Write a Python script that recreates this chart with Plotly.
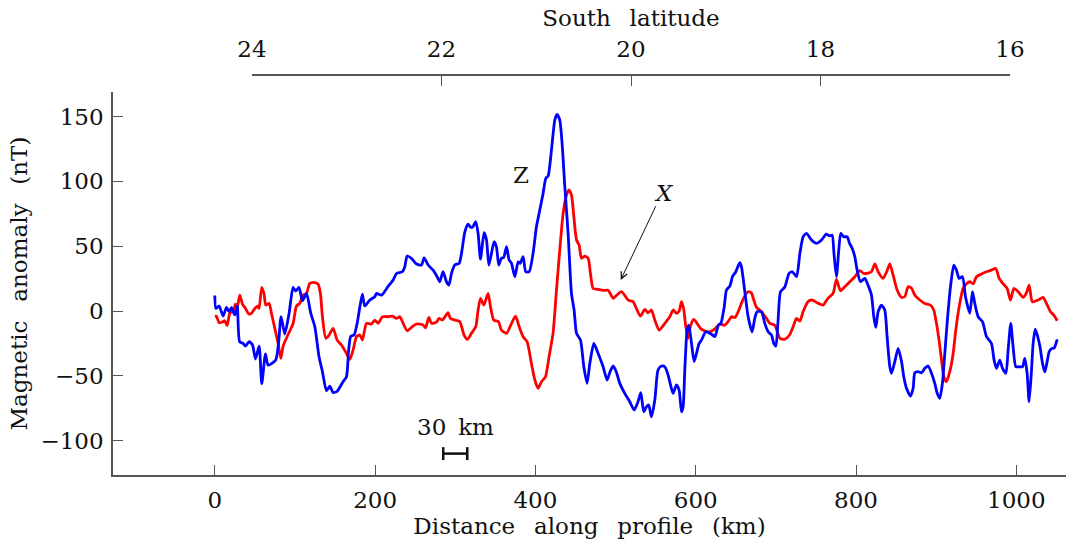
import plotly.graph_objects as go

# ---------------- data ----------------
z_km = [0, 1.4, 5.4, 10.4, 14.6, 17.8, 20.8, 25, 28, 31, 35.3, 38.3, 42.8, 47, 50.7, 55.3, 58.6, 63.2, 66.5, 76,
        79.5, 82.7, 87.3, 92.7, 97.7, 101, 105, 109.4, 114.4, 119.8, 124.8, 130, 134.3, 139.3, 143.5, 147.6, 152.6,
        160, 164.3, 167, 169.7, 173.8, 177.6, 181, 184.2, 187, 193.4, 199.6, 201.7, 208, 216, 222.5, 226.7, 234,
        237, 240, 245.4, 251.6, 257.8, 261.2, 266.2, 272.4, 277.4, 280.7, 284.8, 289, 292, 295.3, 299.4, 304.8,
        307.8, 312, 316, 319.4, 322, 325.6, 328.5, 331.5, 336, 339, 341.9, 345.2, 348.5, 351.4, 354.3, 357.6,
        360.4, 364, 367.2, 370.2, 374.3, 378.5, 381, 384.7, 388, 392.2, 397.1, 401.3, 405.5, 409.6, 413, 415.9,
        420, 424.2, 427, 430.4, 433.3, 436.7, 440.8, 445, 448.3, 451.3, 456.3, 460.4, 464.5, 467.9, 472.9, 478.3,
        484.5, 489.5, 493, 497, 501, 505.3, 511.5, 517.8, 523.2, 528, 531.5, 535.2, 538.5, 541.4, 544.8, 549, 553,
        557.3, 561.5, 565.6, 568.6, 571.8, 576, 579.3, 582.3, 584.3, 586.4, 589.3, 591.4, 594.8, 598, 601, 604.3,
        607.2, 612.6, 616.8, 621, 623.9, 628.4, 631.4, 635.5, 638.4, 642.6, 645.9, 650, 655, 657.1, 661.3, 665.4,
        670.4, 673.7, 676.6, 682, 686.2, 690.4, 694.6, 697.4, 700, 702.8, 705.8, 711, 716.5, 720.7, 725.8, 730,
        734, 738.2, 744.5, 750.7, 757, 763, 767, 770.2, 772.5, 775.6, 778.5, 781, 784.7, 789, 792, 795.3, 798.5,
        801.4, 805.6, 811, 815, 819.3, 822.2, 824.7, 827.6, 831.8, 835.9, 838.8, 842.2, 844.3, 848.4, 852.6, 856.8,
        859.6, 863, 868, 871.3, 873.4, 877.6, 881.8, 885.8, 890, 894.2, 898.3, 901.3, 904.5, 907.8, 910.8, 914,
        917.9, 922, 925.3, 928.7, 932.8, 936.6, 942, 945.3, 948.2, 952.4, 957.8, 962.8, 969, 972.3, 975.3, 979.4,
        982.8, 987, 989.8, 993.1, 996, 999.4, 1003.5, 1007.7, 1010.6, 1013.5, 1016, 1019, 1021, 1023.6, 1026.5,
        1029.4, 1032.7, 1035.6, 1038.5, 1041, 1044, 1047.3, 1051]
z_nT = [12, 2, 3.9, -3.9, 2.8, -0.5, 2.6, -3, 4, -23.7, -25, -27, -23.7, -26, -37, -27, -56, -33, -41.7, -37.8,
        -25, -4.4, -17.7, -1.8, 18.3, 15.4, 18.3, 8, 13.6, -1.8, -12, -35, -46.8, -61.5, -58, -62.8, -62,
        -54.5, -50.7, -30, -19.3, -18.5, -9.5, 3.3, 13, 3.9, 8.5, 11, 13.6, 12.3, 18.8, 24, 29, 30.3,
        34, 42.4, 40.7, 36.3, 35.5, 41, 35.5, 31.6, 26.5, 22.6, 30.3, 22.6, 20, 29, 35.5, 36.8,
        44.5, 61, 67, 64.6, 65, 69, 60, 40, 60.4, 54.8, 35.5, 44.5, 53.5, 49.6, 35.5, 40.7,
        41.2, 49.6, 39.4, 36.8, 26.5, 38, 36.8, 42, 30.3, 30.3, 44.5, 65, 78, 90.8, 102.4, 104.2,
        124, 147.4, 151.8, 147.4, 129.4, 96, 60, 13.6, 0.8, -17.2, -22.4, -43, -55.8, -40.4, -25, -32.7,
        -43, -53.2, -47, -42.4, -47, -55.8, -63.5, -70, -76.4, -70, -63, -77.7, -73.9, -72.5, -81.6, -68.7, -45.5,
        -42.4, -43, -49.4, -57, -63.5, -57, -61, -77.7, -73.9, -45.5, -14.7, -10.8, -25, -39, -32.7, -25,
        -22.4, -16, -17, -18.5, -19.8, -10.8, -9.5, 2.8, 16.2, 19.3, 26.5, 30.3, 37.3, 34, 14.9, -4.4,
        -16, -5.7, -0.5, -0.5, -9.5, -16, -18.5, -25, -27, -7, 14.9, 18.3, 29, 30.3, 26.5, 44.5,
        57.3, 60, 54.8, 52.2, 54.8, 59.4, 58, 58.6, 44.5, 26.5, 47, 60, 57.3, 57.3, 52.2, 48.3, 42,
        31.6, 22.6, 25.2, 20, 12.3, -4.4, -12.6, -0.5, 4.6, 0.8, -19.8, -43, -48, -39, -28.8, -39,
        -50.7, -59.6, -65.6, -59.6, -47.6, -46.8, -47.6, -44.2, -42.4, -48, -55.8, -63.5, -67.4, -55.8, -32.7, -7,
        18.8, 35.5, 31.6, 25.2, 26.5, 11, -1.8, 14.9, 5.9, -4.4, -8.2, -19.8, -25, -37.8, -44.2, -37.8,
        -44.2, -48, -30, -9.5, -27.5, -43, -43, -43, -36.5, -48, -70, -45.5, -25, -14, -19.3,
        -27, -40.4, -47, -39, -31.4, -29, -28.5, -21.9]

x_km = [0, 2, 5.4, 9.6, 12.5, 15.4, 18.7, 22.9, 25.8, 28, 31.2, 34.5, 38.3, 42.4, 45.7, 50, 54, 55.3, 58.6, 61.5,
        63.6, 67.8, 70.7, 74.9, 79, 82.3, 85.3, 90.2, 97.7, 101.9, 106, 110.2, 114.4, 118.5, 124.8, 128.9, 131.8,
        134.3, 138.5, 142.6, 147.6, 152.6, 158, 164.3, 168.4, 172.6, 176.8, 181, 184.2, 189.2, 195.5, 199.6,
        203.8, 209.2, 216, 221.7, 226.7, 231, 235, 240, 245.4, 251.6, 259.8, 263, 267, 270.4, 276.6, 279.8, 284,
        291, 294, 299.4, 305.7, 311, 315.2, 320.2, 325.6, 328.5, 331.5, 335.6, 341, 344, 348, 354, 357.6, 364,
        370.2, 375.2, 379.7, 384.7, 389.7, 395, 399.3, 403.4, 407.6, 412.6, 417, 422, 426.3, 430.4, 434.6, 438.8,
        441.7, 445, 448, 451.3, 454.5, 457.5, 461.7, 465.8, 468.7, 472, 478.3, 484.5, 490.7, 497, 501, 507.4,
        515.7, 522, 526, 531, 536.5, 540.6, 544.8, 549, 554.4, 561.5, 567.7, 571.8, 576, 579.3, 582.3, 585.2,
        587.6, 590.5, 593.5, 597.6, 601.7, 606, 611, 617.3, 623.5, 630, 636, 640.4, 644.6, 649, 653, 657, 661.3,
        665.4, 669.5, 672.5, 675.8, 682, 688.3, 692.5, 698.7, 705, 711, 717, 721.6, 725.8, 730, 734, 740, 745.6,
        752.6, 759, 765, 771.4, 775.6, 780.6, 786, 792.3, 798.5, 804.7, 809.8, 815, 819.3, 823.5, 827.6, 833.8,
        838.8, 842.2, 846.3, 851.3, 856.8, 861, 865, 869.2, 873.4, 879.6, 885.8, 892.9, 897, 900.4, 903.6, 906.7,
        909.6, 912.9, 917, 921.2, 924.5, 928.7, 933.6, 937.8, 942, 946.2, 950.3, 956.6, 962.8, 969, 974.4, 978.6,
        983.6, 988.5, 992.7, 997, 1002.4, 1008.5, 1012.6, 1016, 1020, 1027.2, 1033.4, 1037.6, 1042.6, 1046.8, 1051]
x_nT = [-4, -4, -9, -8.5, -7.5, -11.3, -1.8, 0, 5.4, 3, 12.3, 5.4, 2, -2.3, -1.8, 2, 3.9, 2, 18.3, 13,
        4.6, 5.9, -1.8, -13.4, -25, -36.5, -27, -19.8, -9.5, 3.9, 5.9, 12.3, 13.6, 21.4, 22, 20.8, 13.6,
        -4.4, -21, -18.5, -13.4, -22.4, -26.2, -32.7, -37.3, -30, -19.8, -18.5, -22.4, -9.5, -10, -7,
        -9.5, -4.4, -4.4, -3.9, -5.7, -4.4, -9.5, -15.2, -12.6, -10, -10.8, -13, -4.9, -9.5, -8.5, -5.7, -6.9,
        -1.3, -5.7, -6.9, -8.2, -18.5, -21.9, -17.2, -12, 0.8, 9.8, 4.6, 13.6, 3.3, -6.9, -8.2, -14.7, -17.2,
        -9.5, -3.9, -12, -19.8, -23.7, -40.4, -53.2, -59.6, -54.5, -50.7, -35.3, -17.2, 16.2, 47, 75.4, 89.5,
        93.4, 89.5, 72.8, 54.8, 51, 40.7, 42.4, 40.7, 29, 17.5, 16.7, 15.9, 16, 9.8, 12, 14.9,
        8.5, 7.2, 2, -3.9, 1.3, -1.3, 0.8, -6.9, -14.7, -9.5, -4.4, 0.8, -1.8, 0, 7.2, 0.8,
        -12, -21, -11.6, -6.4, -9.5, -13.4, -15.2, -16, -14, -10, -11, -8.2, -4.4, -5, -0.5, 5.9, 11.6,
        14.9, 14, 8.5, 2.8, -0.5, -5.7, -9.5, -11, -21, -21.8, -18.5, -12, -5.7, -7.7, -0.5, 7.2, 8.5,
        6, 4.6, 9.8, 13.6, 24.4, 15.7, 18.8, 22.6, 26.5, 31.1, 29, 29.3, 30.3, 36.3, 30.3, 25.2,
        31.1, 36.3, 27.8, 16.2, 10.5, 11.3, 18.8, 17.7, 12.3, 8.5, 5.9, 4.6, 0.8, -9.5, -22.4, -37.8,
        -50.7, -54.5, -46.8, -32.7, -14.7, 3.3, 17.5, 21, 22.6, 21, 26.5, 28.6, 30.3, 31.6, 32.9, 25.2,
        21, 17.5, 8.5, 17.5, 14.9, 10.5, 14, 20, 7.2, 8.5, 10.5, 5.9, -0.5, -3.2, -7.5]

dist_ticks = [0, 200, 400, 600, 800, 1000]
anom_ticks = [-100, -50, 0, 50, 100, 150]
lat_ticks = [24, 22, 20, 18, 16]

scale_start_km = 285
scale_len_km = 30
scale_level_nT = -110

FONT = "DejaVu Serif"
FS = 23
AXC = "#555555"
TXT = "#111111"
SP = "\u2002 "   # wide word spacing as in the reference
SP2 = "\u2009 "  # slightly narrower spacing for the scale label

fig = go.Figure()
fig.add_trace(go.Scatter(x=x_km, y=x_nT, mode="lines",
                         line=dict(color="#ff0000", width=2.8, shape="spline", smoothing=0.6),
                         showlegend=False, hoverinfo="skip"))
fig.add_trace(go.Scatter(x=z_km, y=z_nT, mode="lines",
                         line=dict(color="#0000ff", width=2.8, shape="spline", smoothing=0.6),
                         showlegend=False, hoverinfo="skip"))
# dummy trace to carry the latitude axis
fig.add_trace(go.Scatter(x=[lat_ticks[0], lat_ticks[-1]], y=[None, None], xaxis="x2", yaxis="y", mode="lines",
                         showlegend=False, hoverinfo="skip"))

W, H = 1066, 544
ml, mr, mt, mb = 113, 0, 75, 69
pw = W - ml - mr
ph = H - mt - mb
y_top_px = 92
ydom_top = (H - mb - y_top_px) / ph
lat_left_px, lat_right_px = 252, 1010

axis_common = dict(showline=True, linecolor=AXC, linewidth=1.5, ticks="inside", ticklen=10, tickwidth=1.2,
                   tickcolor=AXC, showgrid=False, zeroline=False, automargin=False,
                   tickfont=dict(family=FONT, size=FS, color=TXT))

fig.update_layout(
    width=W, height=H, margin=dict(l=ml, r=mr, t=mt, b=mb, autoexpand=False),
    plot_bgcolor="rgba(0,0,0,0)", paper_bgcolor="white",
    font=dict(family=FONT, size=FS, color=TXT),
    xaxis=dict(range=[-127, 1062], tickvals=dist_ticks, anchor="y", ticklabelstandoff=4,
               title=dict(text=f"Distance{SP}along{SP}profile{SP}(km)", font=dict(family=FONT, size=FS), standoff=4),
               **axis_common),
    yaxis=dict(range=[-126.5, 169], domain=[0, ydom_top], tickvals=anom_ticks, anchor="x", ticklabelstandoff=3,
               title=dict(text=f"Magnetic{SP}anomaly{SP}(nT)", font=dict(family=FONT, size=FS), standoff=6),
               **axis_common),
    xaxis2=dict(range=[lat_ticks[0], lat_ticks[-1]], tickvals=lat_ticks, anchor="free", position=1, side="top",
                domain=[(lat_left_px - ml) / pw, (lat_right_px - ml) / pw], ticklabelstandoff=8,
                title=dict(text=f"South{SP}latitude", font=dict(family=FONT, size=FS), standoff=2),
                **axis_common),
)

# annotations
fig.add_annotation(x=382, y=105, text="Z", showarrow=False, xref="x", yref="y", font=dict(family=FONT, size=FS, color=TXT))
fig.add_annotation(x=561, y=91, text="<i>X</i>", showarrow=False, xref="x", yref="y", font=dict(family=FONT, size=FS, color=TXT))
fig.add_annotation(x=506.5, y=24, ax=551, ay=82, axref="x", ayref="y", xref="x", yref="y", text="",
                   showarrow=True, arrowhead=5, arrowsize=1.3, arrowwidth=1, arrowcolor=TXT)

# scale bar
s0, s1 = scale_start_km, scale_start_km + scale_len_km
fig.add_shape(type="line", x0=s0, x1=s1, y0=scale_level_nT, y1=scale_level_nT, line=dict(color=TXT, width=2.5))
for s in (s0, s1):
    fig.add_shape(type="line", x0=s, x1=s, y0=scale_level_nT - 5, y1=scale_level_nT + 5, line=dict(color=TXT, width=2.5))
fig.add_annotation(x=(s0 + s1) / 2, y=scale_level_nT + 20.5, text=f"30{SP2}km", showarrow=False,
                   font=dict(family=FONT, size=FS, color=TXT))

fig.write_html("out.html")
